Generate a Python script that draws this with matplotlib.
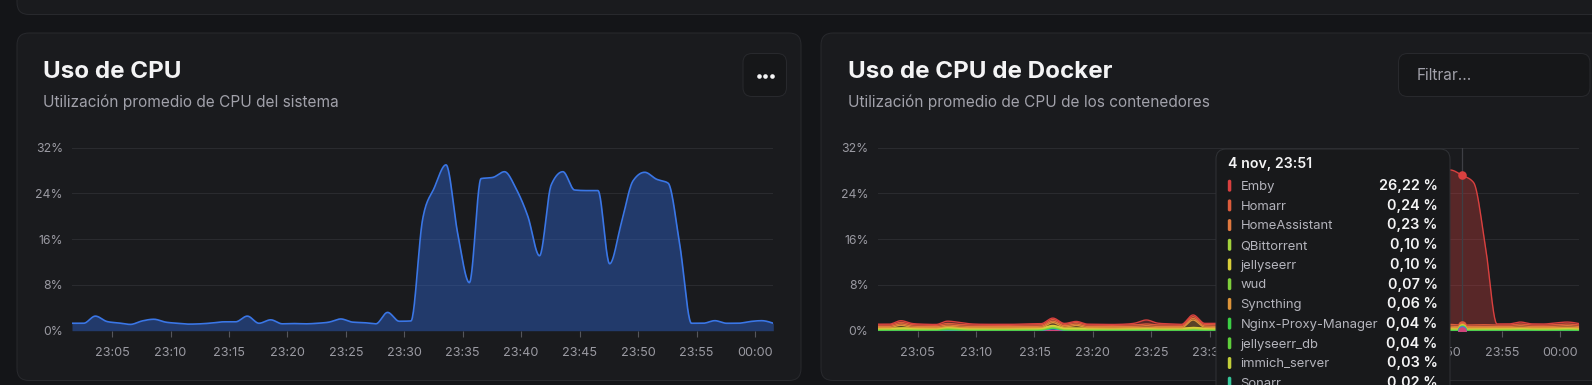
import numpy as np
import matplotlib
matplotlib.use("Agg")
import matplotlib.pyplot as plt
from matplotlib.patches import FancyBboxPatch

plt.rcParams['font.family'] = ['Inter', 'DejaVu Sans']

# ---------------- data ----------------
# sample times: minutes after 23:00 (one sample per minute, first at 23:01:34)
t_start = 1.57
n_pts = 61
times = [t_start + k for k in range(n_pts)]

xtick_minutes = [5, 10, 15, 20, 25, 30, 35, 40, 45, 50, 55, 60]
xtick_labels = ["23:05", "23:10", "23:15", "23:20", "23:25", "23:30",
                "23:35", "23:40", "23:45", "23:50", "23:55", "00:00"]
ytick_values = [0, 8, 16, 24, 32]
ytick_labels = ["0%", "8%", "16%", "24%", "32%"]

cpu_system = [1.3, 1.3, 2.55, 1.6, 1.35, 1.1, 1.7, 2.0, 1.5, 1.3,
              1.15, 1.2, 1.35, 1.55, 1.55, 2.55, 1.3, 1.9, 1.2, 1.25,
              1.2, 1.3, 1.5, 2.05, 1.5, 1.4, 1.2, 3.2, 1.65, 1.7,
              19.5, 25.0, 29.0, 17.0, 8.4, 26.6, 26.8, 27.8, 24.8, 20.0,
              13.1, 25.5, 27.8, 24.6, 24.5, 24.5, 11.7, 18.8, 26.2, 27.7,
              26.5, 25.8, 15.0, 1.3, 1.3, 1.75, 1.3, 1.3, 1.6, 1.75, 1.3]

emby = [0.15, 0.15, 0.30, 0.20, 0.15, 0.15, 0.40, 0.35, 0.20, 0.15,
        0.15, 0.15, 0.15, 0.20, 0.20, 0.25, 0.15, 0.20, 0.15, 0.15,
        0.15, 0.15, 0.30, 0.70, 0.30, 0.20, 0.15, 0.30, 0.20, 0.25,
        18.3, 23.8, 27.8, 15.8, 7.2, 25.4, 25.6, 26.6, 23.6, 18.8,
        11.9, 24.3, 26.6, 23.4, 23.3, 23.3, 10.5, 17.6, 24.9, 27.0,
        26.22, 24.9, 13.9, 0.20, 0.20, 0.35, 0.20, 0.20, 0.30, 0.35, 0.25]
homarr = [0.25, 0.24, 0.26, 0.25, 0.24, 0.23, 0.27, 0.26, 0.25, 0.24,
          0.24, 0.23, 0.24, 0.25, 0.24, 0.28, 0.25, 0.26, 0.24, 0.24,
          0.23, 0.24, 0.25, 0.30, 0.26, 0.25, 0.24, 0.30, 0.25, 0.26,
          0.30, 0.32, 0.33, 0.30, 0.28, 0.31, 0.32, 0.33, 0.30, 0.29,
          0.27, 0.31, 0.32, 0.30, 0.30, 0.30, 0.27, 0.29, 0.31, 0.30,
          0.24, 0.26, 0.28, 0.25, 0.24, 0.30, 0.25, 0.24, 0.27, 0.29, 0.26]
homeassistant = [0.22, 0.23, 0.24, 0.23, 0.22, 0.22, 0.25, 0.24, 0.23, 0.22,
                 0.22, 0.22, 0.23, 0.23, 0.22, 0.26, 0.23, 0.24, 0.22, 0.22,
                 0.22, 0.23, 0.24, 0.28, 0.24, 0.23, 0.22, 0.28, 0.23, 0.24,
                 0.26, 0.27, 0.28, 0.26, 0.24, 0.27, 0.27, 0.28, 0.26, 0.25,
                 0.24, 0.27, 0.28, 0.26, 0.26, 0.26, 0.24, 0.25, 0.27, 0.26,
                 0.23, 0.24, 0.25, 0.22, 0.22, 0.27, 0.23, 0.22, 0.25, 0.27, 0.23]
syncthing = [0.06, 0.07, 0.45, 0.12, 0.06, 0.05, 0.08, 0.07, 0.06, 0.06,
             0.05, 0.05, 0.06, 0.07, 0.08, 0.50, 0.15, 0.45, 0.08, 0.06,
             0.05, 0.06, 0.06, 0.08, 0.06, 0.06, 0.05, 1.30, 0.15, 0.08,
             0.07, 0.07, 0.08, 0.07, 0.06, 0.07, 0.07, 0.08, 0.07, 0.06,
             0.06, 0.07, 0.07, 0.06, 0.06, 0.06, 0.06, 0.06, 0.07, 0.07,
             0.06, 0.06, 0.06, 0.06, 0.06, 0.08, 0.06, 0.06, 0.07, 0.08, 0.06]
jellyseerr = [0.10, 0.10, 0.11, 0.10, 0.10, 0.09, 0.11, 0.11, 0.10, 0.10,
              0.10, 0.09, 0.10, 0.10, 0.10, 0.12, 0.10, 0.11, 0.10, 0.10,
              0.09, 0.10, 0.10, 0.12, 0.10, 0.10, 0.10, 0.13, 0.10, 0.10,
              0.11, 0.11, 0.12, 0.11, 0.10, 0.11, 0.11, 0.12, 0.11, 0.10,
              0.10, 0.11, 0.11, 0.11, 0.11, 0.11, 0.10, 0.10, 0.11, 0.11,
              0.10, 0.10, 0.10, 0.10, 0.10, 0.11, 0.10, 0.10, 0.10, 0.11, 0.10]
immich_server = [0.03, 0.03, 0.04, 0.03, 0.03, 0.03, 0.04, 0.04, 0.03, 0.03,
                 0.03, 0.03, 0.03, 0.03, 0.03, 0.05, 0.03, 0.04, 0.03, 0.03,
                 0.03, 0.03, 0.03, 0.04, 0.03, 0.03, 0.03, 0.05, 0.03, 0.03,
                 0.04, 0.04, 0.04, 0.04, 0.03, 0.04, 0.04, 0.04, 0.04, 0.03,
                 0.03, 0.04, 0.04, 0.04, 0.04, 0.04, 0.03, 0.03, 0.04, 0.04,
                 0.03, 0.03, 0.03, 0.03, 0.03, 0.04, 0.03, 0.03, 0.03, 0.04, 0.03]
qbittorrent = [0.11, 0.10, 0.10, 0.10, 0.11, 0.10, 0.12, 0.11, 0.10, 0.10,
               0.10, 0.10, 0.11, 0.10, 0.10, 0.11, 0.10, 0.10, 0.10, 0.11,
               0.10, 0.10, 0.11, 0.10, 0.10, 0.10, 0.10, 0.11, 0.10, 0.10,
               0.10, 0.11, 0.11, 0.10, 0.10, 0.11, 0.10, 0.11, 0.10, 0.10,
               0.10, 0.11, 0.10, 0.10, 0.11, 0.10, 0.10, 0.10, 0.11, 0.10,
               0.10, 0.10, 0.10, 0.10, 0.11, 0.10, 0.10, 0.10, 0.11, 0.10, 0.10]
wud = [0.07, 0.07, 0.07, 0.07, 0.07, 0.07, 0.12, 0.08, 0.07, 0.07,
       0.07, 0.07, 0.07, 0.07, 0.07, 0.09, 0.07, 0.07, 0.07, 0.07,
       0.07, 0.07, 0.07, 0.07, 0.07, 0.07, 0.07, 0.08, 0.07, 0.07,
       0.07, 0.07, 0.08, 0.07, 0.07, 0.07, 0.07, 0.08, 0.07, 0.07,
       0.07, 0.07, 0.08, 0.07, 0.07, 0.07, 0.07, 0.07, 0.07, 0.07,
       0.07, 0.07, 0.07, 0.07, 0.07, 0.07, 0.07, 0.07, 0.07, 0.08, 0.07]
jellyseerr_db = [0.04, 0.04, 0.04, 0.04, 0.04, 0.04, 0.08, 0.05, 0.04, 0.04,
                 0.04, 0.04, 0.04, 0.04, 0.04, 0.05, 0.04, 0.04, 0.04, 0.04,
                 0.04, 0.04, 0.04, 0.04, 0.04, 0.04, 0.04, 0.05, 0.04, 0.04,
                 0.04, 0.05, 0.05, 0.04, 0.04, 0.04, 0.05, 0.05, 0.04, 0.04,
                 0.04, 0.05, 0.05, 0.04, 0.04, 0.04, 0.04, 0.04, 0.05, 0.04,
                 0.04, 0.04, 0.04, 0.04, 0.04, 0.05, 0.04, 0.04, 0.04, 0.05, 0.04]
nginx_proxy_manager = [0.04, 0.04, 0.05, 0.04, 0.04, 0.04, 0.06, 0.05, 0.04, 0.04,
                       0.04, 0.04, 0.04, 0.04, 0.04, 0.06, 0.04, 0.04, 0.04, 0.04,
                       0.04, 0.04, 0.04, 0.05, 0.04, 0.04, 0.04, 0.05, 0.04, 0.04,
                       0.04, 0.04, 0.05, 0.04, 0.04, 0.04, 0.04, 0.05, 0.04, 0.04,
                       0.04, 0.04, 0.05, 0.04, 0.04, 0.04, 0.04, 0.04, 0.04, 0.04,
                       0.04, 0.04, 0.04, 0.04, 0.04, 0.05, 0.04, 0.04, 0.04, 0.05, 0.04]
sonarr = [0.02, 0.02, 0.03, 0.02, 0.02, 0.02, 0.05, 0.03, 0.02, 0.02,
          0.02, 0.02, 0.02, 0.02, 0.03, 0.10, 0.03, 0.02, 0.02, 0.02,
          0.02, 0.02, 0.02, 0.03, 0.02, 0.02, 0.02, 0.03, 0.02, 0.02,
          0.02, 0.02, 0.03, 0.02, 0.02, 0.02, 0.02, 0.03, 0.02, 0.02,
          0.02, 0.02, 0.03, 0.02, 0.02, 0.02, 0.02, 0.02, 0.02, 0.02,
          0.02, 0.02, 0.02, 0.02, 0.02, 0.03, 0.02, 0.02, 0.02, 0.03, 0.02]
otro_azul = [0.03, 0.03, 0.04, 0.03, 0.03, 0.03, 0.06, 0.04, 0.03, 0.03,
             0.03, 0.03, 0.03, 0.03, 0.06, 0.30, 0.06, 0.03, 0.03, 0.03,
             0.03, 0.03, 0.03, 0.04, 0.03, 0.03, 0.03, 0.04, 0.03, 0.03,
             0.03, 0.03, 0.03, 0.03, 0.03, 0.03, 0.03, 0.03, 0.03, 0.03,
             0.03, 0.03, 0.03, 0.03, 0.03, 0.03, 0.03, 0.03, 0.03, 0.03,
             0.02, 0.03, 0.03, 0.03, 0.03, 0.04, 0.03, 0.03, 0.03, 0.04, 0.03]
otro_rosa = [0.02, 0.02, 0.02, 0.02, 0.02, 0.02, 0.03, 0.02, 0.02, 0.02,
             0.02, 0.02, 0.02, 0.02, 0.02, 0.03, 0.02, 0.02, 0.02, 0.02,
             0.02, 0.02, 0.02, 0.02, 0.02, 0.02, 0.02, 0.03, 0.02, 0.02,
             0.02, 0.02, 0.02, 0.02, 0.02, 0.02, 0.02, 0.02, 0.02, 0.02,
             0.02, 0.02, 0.02, 0.02, 0.02, 0.02, 0.02, 0.02, 0.02, 0.02,
             0.02, 0.02, 0.02, 0.02, 0.02, 0.02, 0.02, 0.02, 0.02, 0.02, 0.02]

# stack order (bottom -> top)
stack_names = ["otro_rosa", "otro_azul", "Sonarr", "Nginx-Proxy-Manager", "jellyseerr_db",
               "wud", "QBittorrent", "immich_server", "jellyseerr", "Syncthing",
               "HomeAssistant", "Homarr", "Emby"]
stack_values = [otro_rosa, otro_azul, sonarr, nginx_proxy_manager, jellyseerr_db,
                wud, qbittorrent, immich_server, jellyseerr, syncthing,
                homeassistant, homarr, emby]
stack_colors = ["#d0457a", "#3f7fd9", "#36c79a", "#3ccf45", "#5fcf3c",
                "#7fcf3c", "#a3d23c", "#c2cf3a", "#d9cf3a", "#dc943a",
                "#e0793f", "#dd5c3c", "#d9403f"]

tooltip_index = 50
tooltip_title = "4 nov, 23:51"
tooltip_names = ["Emby", "Homarr", "HomeAssistant", "QBittorrent", "jellyseerr", "wud",
                 "Syncthing", "Nginx-Proxy-Manager", "jellyseerr_db", "immich_server", "Sonarr"]

for s in stack_values + [cpu_system]:
    assert len(s) == n_pts

# ---------------- style ----------------
PAGE = "#141518"
CARD = "#1a1b1e"
BORDER = "#28292d"
BTN = "#161719"
GRID = "#2a2b2f"
TICK = "#9a9aa2"
W, H = 1592, 385


def monotone(x, y, n=24):
    x = np.asarray(x, float)
    y = np.asarray(y, float)
    h = np.diff(x)
    d = np.diff(y) / h
    m = np.zeros_like(y)
    sgn = lambda v: np.where(v < 0, -1.0, 1.0)
    h0, h1, d0, d1 = h[:-1], h[1:], d[:-1], d[1:]
    p = (d0 * h1 + d1 * h0) / (h0 + h1)
    m[1:-1] = (sgn(d0) + sgn(d1)) * np.minimum(np.minimum(np.abs(d0), np.abs(d1)), 0.5 * np.abs(p))
    m[0] = (3 * d[0] - m[1]) / 2
    m[-1] = (3 * d[-1] - m[-2]) / 2
    xs, ys = [], []
    s = np.linspace(0, 1, n, endpoint=False)
    for i in range(len(x) - 1):
        h00 = 2 * s**3 - 3 * s**2 + 1
        h10 = s**3 - 2 * s**2 + s
        h01 = -2 * s**3 + 3 * s**2
        h11 = s**3 - s**2
        xs.append(x[i] + s * h[i])
        ys.append(h00 * y[i] + h10 * h[i] * m[i] + h01 * y[i + 1] + h11 * h[i] * m[i + 1])
    xs.append([x[-1]])
    ys.append([y[-1]])
    return np.concatenate(xs), np.concatenate(ys)


fig = plt.figure(figsize=(W / 100, H / 100), dpi=100)
fig.patch.set_facecolor(PAGE)

bg = fig.add_axes([0, 0, 1, 1], zorder=0)
bg.set_xlim(0, W)
bg.set_ylim(H, 0)
bg.axis("off")


def rbox(ax, x0, y0, x1, y1, r, fc, ec, lw=1.0, z=1):
    p = FancyBboxPatch((x0, y0), x1 - x0, y1 - y0,
                       boxstyle=f"round,pad=0,rounding_size={r}",
                       fc=fc, ec=ec, lw=lw * 0.72, zorder=z)
    ax.add_patch(p)


# cards
rbox(bg, 17, -40, 1650, 14.5, 12, CARD, BORDER)
rbox(bg, 17, 33, 801, 380.5, 12, CARD, BORDER)
rbox(bg, 821, 33, 1650, 380.5, 12, CARD, BORDER)

# headings
for x0, title, sub in [(43, "Uso de CPU", "Utilización promedio de CPU del sistema"),
                       (848, "Uso de CPU de Docker", "Utilización promedio de CPU de los contenedores")]:
    bg.text(x0, 77.5, title, fontsize=17.4, fontweight="bold", color="#f4f4f5", va="baseline")
    bg.text(x0, 106.5, sub, fontsize=11.1, color="#a1a1aa", va="baseline")

# "..." button
rbox(bg, 743, 53.5, 786.5, 96.5, 9, BTN, BORDER, z=2)
bg.scatter([758.5, 765, 771.5], [75.5, 75.5, 75.5], s=11, c="#f4f4f5", zorder=3, lw=0)

# filter input
rbox(bg, 1398.5, 53.5, 1590, 96.5, 9, BTN, BORDER, z=2)
bg.text(1417, 80.5, "Filtrar...", fontsize=11.1, color="#a1a1aa", va="baseline", zorder=3)

# ---------------- chart axes ----------------
ax_bottom = (H - 330.7) / H
ax_height = 183.0 / H
ax_w = 701.3 / W


def style_axes(ax):
    ax.set_facecolor("none")
    ax.set_xlim(times[0], times[-1])
    ax.set_ylim(0, 32)
    for sp in ax.spines.values():
        sp.set_visible(False)
    ax.set_yticks(ytick_values)
    ax.set_yticklabels(ytick_labels)
    ax.set_xticks(xtick_minutes)
    ax.set_xticklabels(xtick_labels)
    ax.tick_params(axis="y", length=0, pad=6.5, labelsize=8.8, labelcolor=TICK)
    ax.tick_params(axis="x", length=4.3, width=0.8, color="#55565c", pad=7.6,
                   labelsize=9.1, labelcolor=TICK)
    for yv in ytick_values:
        ax.axhline(yv, color=GRID, lw=0.8, zorder=0)


ax1 = fig.add_axes([72 / W, ax_bottom, ax_w, ax_height], zorder=2)
style_axes(ax1)
xs, ys = monotone(times, cpu_system)
ax1.fill_between(xs, 0, ys, color="#2f67d6", alpha=0.42, lw=0, zorder=2)
ax1.plot(xs, ys, color="#3a76e6", lw=1.2, zorder=3)

ax2 = fig.add_axes([877.5 / W, ax_bottom, ax_w, ax_height], zorder=2)
style_axes(ax2)
cum = np.cumsum(np.array(stack_values, float), axis=0)
prev_s = np.zeros(len(monotone(times, cum[0])[0]))
for i, (name, col) in enumerate(zip(stack_names, stack_colors)):
    xs2, top_s = monotone(times, cum[i])
    ax2.fill_between(xs2, prev_s, top_s, color=col, alpha=0.33, lw=0, zorder=2 + i * 0.01)
    ax2.plot(xs2, top_s, color=col, lw=1.0, zorder=2.5 + i * 0.01)
    prev_s = top_s

tx = times[tooltip_index]
ax2.axvline(tx, color="#3e3f45", lw=0.9, zorder=3)
for i in reversed(range(len(stack_names))):
    ax2.scatter([tx], [cum[i][tooltip_index]], s=38, color=stack_colors[i], zorder=4, lw=0)

# ---------------- tooltip ----------------
ov = fig.add_axes([0, 0, 1, 1], zorder=10)
ov.set_xlim(0, W)
ov.set_ylim(H, 0)
ov.axis("off")
ov.patch.set_visible(False)
rbox(ov, 1216, 149, 1450, 480, 10, "#18191b", "#303236", z=1)
ov.text(1227.5, 167.8, tooltip_title, fontsize=10.2, fontweight="semibold", color="#f4f4f5",
        va="baseline", zorder=3)
name_to_idx = {n: i for i, n in enumerate(stack_names)}
for r, name in enumerate(tooltip_names):
    yc = 185.7 + 19.7 * r
    idx = name_to_idx[name]
    rbox(ov, 1227.8, yc - 6, 1231.3, yc + 6, 1.7, stack_colors[idx], "none", lw=0, z=2)
    ov.text(1240.5, yc + 4.3, name, fontsize=9.4, color="#b4b4bc", va="baseline", zorder=3)
    val = stack_values[idx][tooltip_index]
    ov.text(1437.5, yc + 4.4, f"{val:.2f}".replace(".", ",") + " %", fontsize=10.4,
            fontweight="semibold", color="#f4f4f5", ha="right", va="baseline", zorder=3)

fig.savefig("out.png", dpi=100, facecolor=PAGE)
